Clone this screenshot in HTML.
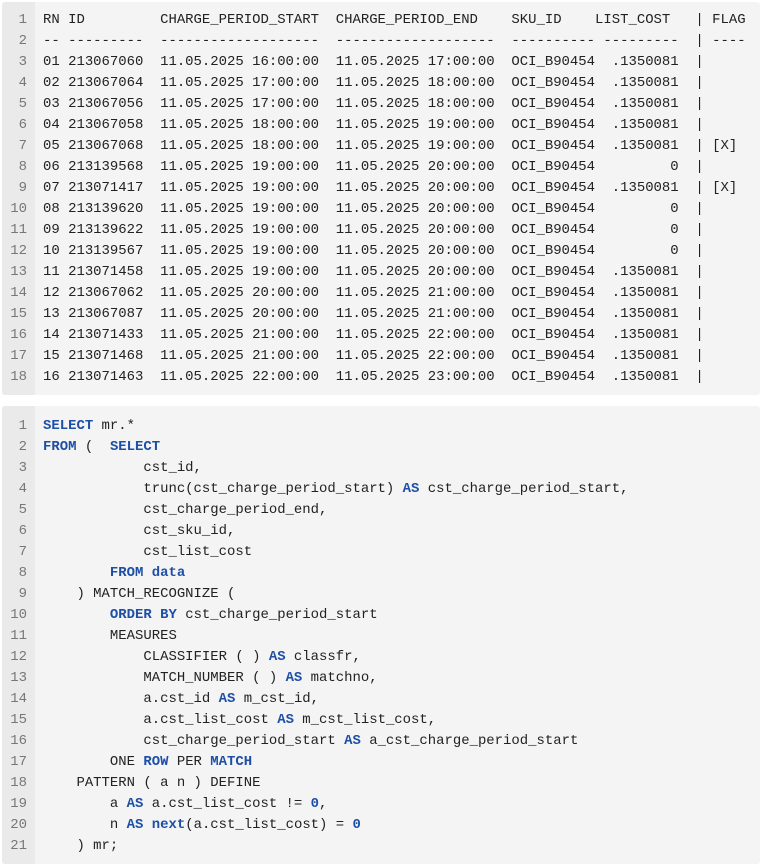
<!DOCTYPE html>
<html><head><meta charset="utf-8"><style>
html,body{margin:0;padding:0;background:#fff;width:764px;height:868px;overflow:hidden}
.blk{position:absolute;left:2px;width:758px;background:#f4f4f4;border-radius:3px;overflow:hidden}
.g{position:absolute;left:0;top:0;bottom:0;width:33px;background:#eaeaea}
pre{margin:0;position:absolute;font-family:"Liberation Mono",monospace;font-size:13.95px;line-height:21px;white-space:pre}
.n{left:0;width:25px;text-align:right;color:#777}
.c{left:41px;color:#222}
b{color:#1d4fa6;font-weight:bold}
</style></head><body>
<div class="blk" style="top:2px;height:393px">
<div class="g"></div>
<pre class="n" style="top:8px">1
2
3
4
5
6
7
8
9
10
11
12
13
14
15
16
17
18</pre>
<pre class="c" style="top:8px">RN ID         CHARGE_PERIOD_START  CHARGE_PERIOD_END    SKU_ID    LIST_COST   | FLAG
-- ---------  -------------------  -------------------  ---------- ---------  | ----
01 213067060  11.05.2025 16:00:00  11.05.2025 17:00:00  OCI_B90454  .1350081  |
02 213067064  11.05.2025 17:00:00  11.05.2025 18:00:00  OCI_B90454  .1350081  |
03 213067056  11.05.2025 17:00:00  11.05.2025 18:00:00  OCI_B90454  .1350081  |
04 213067058  11.05.2025 18:00:00  11.05.2025 19:00:00  OCI_B90454  .1350081  |
05 213067068  11.05.2025 18:00:00  11.05.2025 19:00:00  OCI_B90454  .1350081  | [X]
06 213139568  11.05.2025 19:00:00  11.05.2025 20:00:00  OCI_B90454         0  |
07 213071417  11.05.2025 19:00:00  11.05.2025 20:00:00  OCI_B90454  .1350081  | [X]
08 213139620  11.05.2025 19:00:00  11.05.2025 20:00:00  OCI_B90454         0  |
09 213139622  11.05.2025 19:00:00  11.05.2025 20:00:00  OCI_B90454         0  |
10 213139567  11.05.2025 19:00:00  11.05.2025 20:00:00  OCI_B90454         0  |
11 213071458  11.05.2025 19:00:00  11.05.2025 20:00:00  OCI_B90454  .1350081  |
12 213067062  11.05.2025 20:00:00  11.05.2025 21:00:00  OCI_B90454  .1350081  |
13 213067087  11.05.2025 20:00:00  11.05.2025 21:00:00  OCI_B90454  .1350081  |
14 213071433  11.05.2025 21:00:00  11.05.2025 22:00:00  OCI_B90454  .1350081  |
15 213071468  11.05.2025 21:00:00  11.05.2025 22:00:00  OCI_B90454  .1350081  |
16 213071463  11.05.2025 22:00:00  11.05.2025 23:00:00  OCI_B90454  .1350081  |</pre>
</div>
<div class="blk" style="top:406px;height:458px">
<div class="g"></div>
<pre class="n" style="top:9.5px">1
2
3
4
5
6
7
8
9
10
11
12
13
14
15
16
17
18
19
20
21</pre>
<pre class="c" style="top:9.5px"><b>SELECT</b> mr.*
<b>FROM</b> (  <b>SELECT</b>
            cst_id,
            trunc(cst_charge_period_start) <b>AS</b> cst_charge_period_start,
            cst_charge_period_end,
            cst_sku_id,
            cst_list_cost
        <b>FROM</b> <b>data</b>
    ) MATCH_RECOGNIZE (
        <b>ORDER BY</b> cst_charge_period_start
        MEASURES
            CLASSIFIER ( ) <b>AS</b> classfr,
            MATCH_NUMBER ( ) <b>AS</b> matchno,
            a.cst_id <b>AS</b> m_cst_id,
            a.cst_list_cost <b>AS</b> m_cst_list_cost,
            cst_charge_period_start <b>AS</b> a_cst_charge_period_start
        ONE <b>ROW</b> PER <b>MATCH</b>
    PATTERN ( a n ) DEFINE
        a <b>AS</b> a.cst_list_cost != <b>0</b>,
        n <b>AS</b> <b>next</b>(a.cst_list_cost) = <b>0</b>
    ) mr;</pre>
</div>
</body></html>
